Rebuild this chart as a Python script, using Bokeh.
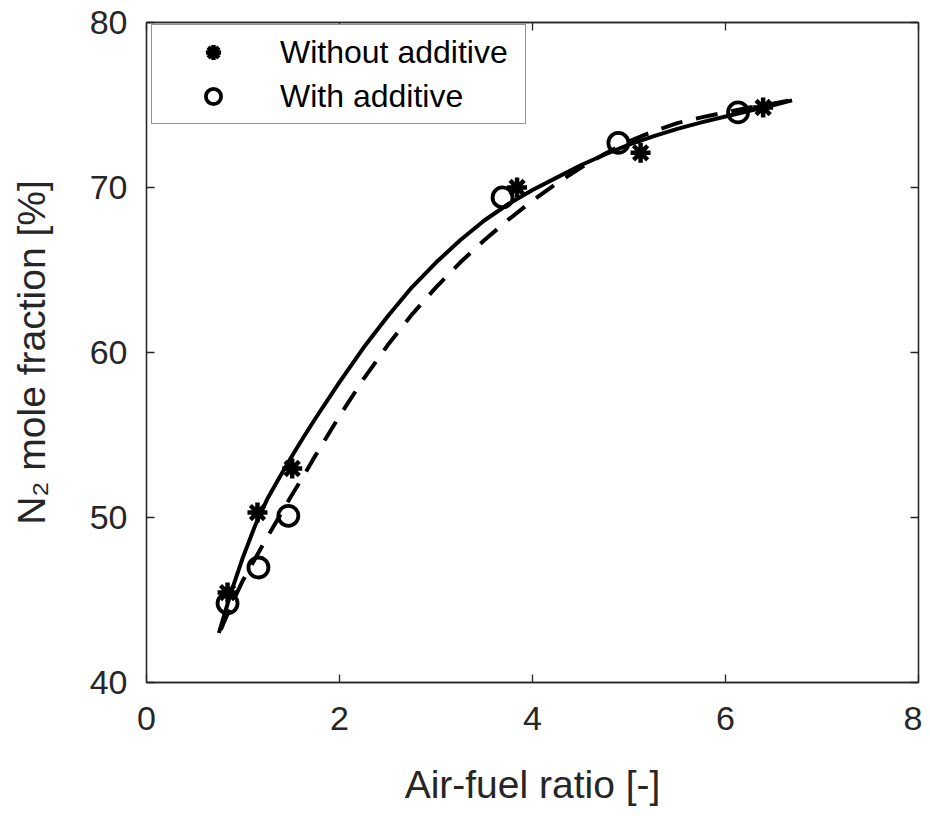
from bokeh.plotting import figure
from bokeh.models import LinearAxis, Legend, LegendItem, Range1d, FixedTicker
from bokeh.embed import file_html
from bokeh.resources import INLINE

# --- data ---
x_without = [0.84, 1.15, 1.51, 3.84, 5.12, 6.39]
y_without = [45.45, 50.3, 52.97, 70.0, 72.1, 74.85]

x_with = [0.84, 1.16, 1.47, 3.69, 4.89, 6.13]
y_with = [44.8, 46.97, 50.1, 69.4, 72.7, 74.55]

# fitted curve (solid)
x_fit_without = [0.75, 0.875, 1.0, 1.125, 1.25, 1.375, 1.5, 1.625, 1.75, 2.0, 2.25,
                 2.5, 2.75, 3.0, 3.25, 3.5, 3.75, 4.0, 4.25, 4.5, 4.75, 5.0, 5.25,
                 5.5, 5.75, 6.0, 6.25, 6.5, 6.69]
y_fit_without = [43.0, 45.45, 47.6, 49.5, 51.1, 52.4, 53.65, 54.85, 56.0, 58.2, 60.3,
                 62.2, 63.95, 65.45, 66.8, 68.0, 69.0, 69.85, 70.6, 71.35, 72.0, 72.6,
                 73.1, 73.55, 73.95, 74.3, 74.65, 75.0, 75.28]

# fitted curve (dashed)
x_fit_with = [0.77, 0.875, 1.0, 1.125, 1.25, 1.375, 1.5, 1.625, 1.75, 2.0, 2.25,
              2.5, 2.75, 3.0, 3.25, 3.5, 3.75, 4.0, 4.25, 4.5, 4.75, 5.0, 5.25,
              5.5, 5.75, 6.0, 6.25, 6.5, 6.69]
y_fit_with = [43.2, 44.65, 46.2, 47.5, 48.8, 50.05, 51.3, 52.5, 53.75, 56.15, 58.4,
              60.45, 62.3, 63.95, 65.45, 66.8, 68.05, 69.2, 70.25, 71.2, 72.05, 72.8,
              73.4, 73.9, 74.25, 74.55, 74.85, 75.1, 75.3]

x_ticks = [0, 2, 4, 6, 8]
y_ticks = [40, 50, 60, 70, 80]

AX = "#262626"
FONT = "Liberation Sans"

p = figure(width=922, height=808, output_backend="svg", toolbar_location=None,
           x_range=Range1d(0, 8), y_range=Range1d(40, 80),
           min_border_left=146, min_border_right=4, min_border_top=22,
           min_border_bottom=126, background_fill_color="white",
           border_fill_color="white")
p.grid.visible = False
p.outline_line_color = AX
p.outline_line_width = 1.3


def style_axis(ax, show_labels, ticks):
    ax.axis_line_color = AX
    ax.axis_line_width = 1.3
    ax.major_tick_line_color = AX
    ax.major_tick_line_width = 1.3
    ax.major_tick_in = 8
    ax.major_tick_out = 0
    ax.minor_tick_line_color = None
    ax.major_label_text_color = AX
    ax.major_label_text_font = FONT
    ax.major_label_text_font_size = "34px"
    if not show_labels:
        ax.major_label_overrides = {t: "" for t in ticks}
        ax.major_label_standoff = 0


p.xaxis.ticker = FixedTicker(ticks=x_ticks)
p.yaxis.ticker = FixedTicker(ticks=y_ticks)
style_axis(p.xaxis[0], True, x_ticks)
style_axis(p.yaxis[0], True, y_ticks)
p.xaxis.major_label_standoff = 24
p.yaxis.major_label_standoff = 19

p.xaxis.axis_label = "Air-fuel ratio [-]"
p.yaxis.axis_label = "N\u2082 mole fraction [%]"
for ax in (p.xaxis[0], p.yaxis[0]):
    ax.axis_label_text_font = FONT
    ax.axis_label_text_font_size = "39px"
    ax.axis_label_text_font_style = "normal"
    ax.axis_label_text_color = AX
p.xaxis.axis_label_standoff = 30
p.yaxis.axis_label_standoff = 34

top = LinearAxis(ticker=FixedTicker(ticks=x_ticks))
right = LinearAxis(ticker=FixedTicker(ticks=y_ticks))
style_axis(top, False, x_ticks)
style_axis(right, False, y_ticks)
p.add_layout(top, "above")
p.add_layout(right, "right")

p.line(x_fit_without, y_fit_without, line_color="black", line_width=4)
p.line(x_fit_with, y_fit_with, line_color="black", line_width=4, line_dash="22 14")

r1 = p.scatter(x_without, y_without, marker="asterisk", size=20,
               line_color="black", line_width=4.5)
r2 = p.scatter(x_with, y_with, marker="circle", size=20, fill_color=None,
               line_color="black", line_width=3.8)

legend = Legend(items=[LegendItem(label="Without additive", renderers=[r1]),
                       LegendItem(label="With additive", renderers=[r2])],
                location=(5, 558))
legend.label_text_font = FONT
legend.label_text_font_size = "32px"
legend.label_text_color = "black"
legend.glyph_width = 106
legend.glyph_height = 38
legend.label_height = 38
legend.label_width = 237
legend.label_standoff = 14
legend.spacing = 6
legend.padding = 8
legend.margin = 0
legend.border_line_color = AX
legend.border_line_width = 1.3
legend.background_fill_alpha = 1
p.add_layout(legend, "center")

open("out.html", "w").write(file_html(p, INLINE))
